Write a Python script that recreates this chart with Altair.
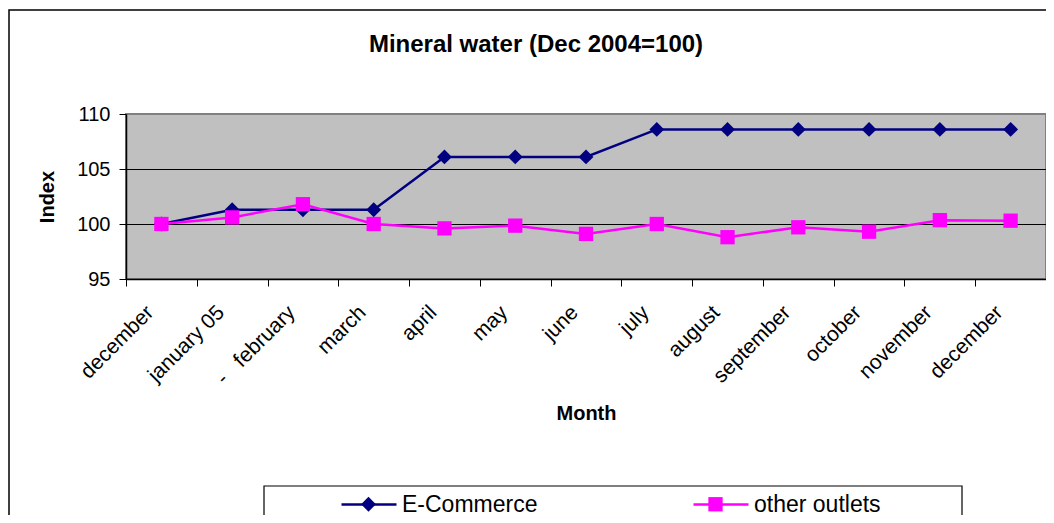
import json
import altair as alt
import pandas as pd

months = ["december", "january 05", "-\u00a0\u00a0\u00a0february", "march", "april", "may", "june",
          "july", "august", "september", "october", "november", "december"]
ecommerce = [100.0, 101.3, 101.3, 101.3, 106.1, 106.1, 106.1, 108.6, 108.6, 108.6, 108.6, 108.6, 108.6]
other_outlets = [100.0, 100.6, 101.8, 100.0, 99.6, 99.85, 99.1, 100.0, 98.8, 99.7, 99.3, 100.35, 100.3]
series_names = ["E-Commerce", "other outlets"]
series_colors = ["#000080", "#FF00FF"]
marker_paths = ["M0,-0.27L0.27,0L0,0.27L-0.27,0Z", "M-0.26,-0.26H0.26V0.26H-0.26Z"]

rows = []
for name, vals in zip(series_names, [ecommerce, other_outlets]):
    for i, (m, v) in enumerate(zip(months, vals)):
        rows.append({"series": name, "month": m, "idx": i, "value": v})
df = pd.DataFrame(rows)

FONT = "Liberation Sans"
W, H = 920, 165

label_expr = json.dumps(months) + "[datum.value] || ''"

x = alt.X("xpos:Q",
          scale=alt.Scale(domain=[0, len(months)], nice=False, zero=False),
          axis=alt.Axis(values=list(range(len(months) + 1)), labelExpr=label_expr,
                        labelAngle=-45, labelAlign="right", labelBaseline="middle",
                        labelOffset=24, labelPadding=23, labelFontSize=21,
                        labelOverlap=False, labelBound=False, labelFlush=False,
                        tickSize=7, tickColor="black", domainColor="black",
                        domainWidth=1.5, labelColor="black", grid=False,
                        title="Month", titleFontSize=20, titleFontWeight="bold",
                        titleX=W / 2, titleY=140, titleBaseline="alphabetic",
                        titleAlign="center", titleColor="black"))
y = alt.Y("value:Q",
          scale=alt.Scale(domain=[95, 110], nice=False, zero=False),
          axis=alt.Axis(values=[95, 100, 105, 110], labelFontSize=20, labelPadding=9,
                        tickSize=7, tickColor="black", domainColor="black",
                        domainWidth=1.5, labelColor="black",
                        grid=True, gridWidth=1,
                        gridColor={"condition": {"test": "datum.value === 110", "value": "#808080"},
                                   "value": "black"},
                        title="Index", titleFontSize=20, titleFontWeight="bold",
                        titleX=-79, titleY=H / 2, titleAngle=-90, titleAlign="center",
                        titleBaseline="middle", titleColor="black"))

legend_common = dict(orient="none", legendX=214, legendY=361.5, direction="horizontal",
                     title=None, symbolSize=3025, labelFontSize=23, labelOffset=4,
                     columnPadding=150, padding=0, labelColor="black", labelLimit=0)

line_legend = alt.Legend(symbolType="stroke", symbolStrokeWidth=2.5, **legend_common)
marker_legend = alt.Legend(labelOpacity=0, symbolOpacity=1, **legend_common)

base = alt.Chart(df).transform_calculate(xpos="datum.idx + 0.5")

lines = base.mark_line(strokeWidth=2.5).encode(
    x=x, y=y,
    color=alt.Color("series:N", scale=alt.Scale(domain=series_names, range=series_colors),
                    legend=line_legend))
points = base.transform_calculate(marker="datum.series").mark_point(
    filled=True, size=3025, opacity=1).encode(
    x=x, y=y,
    fill=alt.Fill("marker:N", scale=alt.Scale(range=series_colors), legend=marker_legend),
    shape=alt.Shape("marker:N", scale=alt.Scale(range=marker_paths), legend=marker_legend))

one = pd.DataFrame({"k": [0]})
outer = alt.Chart(one).mark_rect(fillOpacity=0, stroke="black", strokeWidth=1.5).encode(
    x=alt.value(-117), x2=alt.value(W + 20), y=alt.value(-104), y2=alt.value(H + 260))
legend_box = alt.Chart(one).mark_rect(fill="white", stroke="black", strokeWidth=1.2).encode(
    x=alt.value(138), x2=alt.value(836), y=alt.value(372), y2=alt.value(H + 260))

chart = alt.layer(outer, legend_box, lines, points).properties(
    width=W, height=H,
    title=alt.Title("Mineral water (Dec 2004=100)", fontSize=24, fontWeight="bold",
                    font=FONT, anchor="middle", frame="group", dx=-50, offset=-67,
                    baseline="alphabetic", color="black"),
    autosize=alt.AutoSizeParams(type="none"),
    padding={"left": 118, "top": 106, "right": 0, "bottom": 236},
).configure(font=FONT).configure_view(
    fill="#C0C0C0", stroke="#808080", strokeWidth=2)

chart.save("out.html", embed_options={"renderer": "svg", "actions": False})
